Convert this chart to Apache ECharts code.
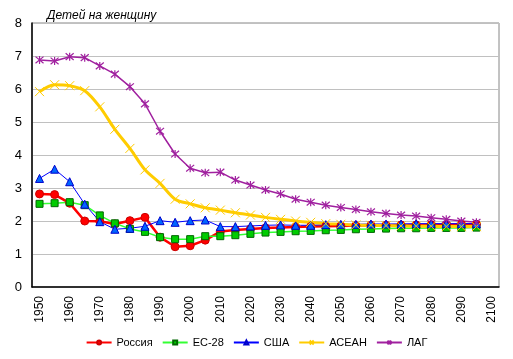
<!DOCTYPE html>
<html>
<head>
<meta charset="utf-8">
<script src="https://cdn.jsdelivr.net/npm/echarts@6/dist/echarts.min.js"></script>
<style>
html,body{margin:0;padding:0;background:#fff;}
#chart{width:513px;height:359px;}
</style>
</head>
<body>
<div id="chart"></div>
<script>
const years = ['1950','1955','1960','1965','1970','1975','1980','1985','1990','1995','2000','2005','2010','2015','2020','2025','2030','2035','2040','2045','2050','2055','2060','2065','2070','2075','2080','2085','2090','2095','2100'];
const russia = [2.82,2.80,2.54,2.00,1.99,1.91,2.01,2.11,1.51,1.22,1.25,1.42,1.68,1.73,1.76,1.79,1.80,1.82,1.83,1.84,1.85,1.86,1.87,1.87,1.88,1.88,1.89,1.89,1.90,1.90];
const eu28 = [2.52,2.54,2.57,2.48,2.17,1.93,1.76,1.67,1.51,1.45,1.45,1.54,1.54,1.57,1.61,1.65,1.67,1.69,1.70,1.72,1.73,1.75,1.76,1.77,1.78,1.78,1.79,1.79,1.79,1.80];
const usa = [3.29,3.57,3.19,2.51,1.98,1.75,1.78,1.84,2.01,1.96,2.01,2.03,1.83,1.83,1.85,1.87,1.88,1.87,1.87,1.89,1.90,1.90,1.91,1.91,1.91,1.92,1.92,1.92,1.92,1.92];
const asean = [5.92,6.13,6.10,5.95,5.46,4.78,4.20,3.55,3.14,2.66,2.52,2.40,2.33,2.25,2.18,2.11,2.05,2.00,1.96,1.92,1.90,1.88,1.87,1.86,1.85,1.84,1.84,1.83,1.83,1.83];
const lag = [6.88,6.85,6.98,6.95,6.70,6.45,6.07,5.55,4.72,4.03,3.60,3.46,3.48,3.24,3.09,2.94,2.82,2.66,2.57,2.48,2.41,2.35,2.28,2.23,2.18,2.15,2.10,2.05,2.00,1.96];
const names = ['Россия','ЕС-28','США','АСЕАН','ЛАГ'];
const yTitle = 'Детей на женщину';

const FONT = '"Liberation Sans", Arial, sans-serif';
const chart = echarts.init(document.getElementById('chart'), null, {renderer:'canvas'});
const xSym = 'path://M0,0L10,10M10,0L0,10';
const starSym = 'path://M0,0L10,10M10,0L0,10M5,-1L5,11';

chart.setOption({
  animation: false,
  backgroundColor: '#fff',
  textStyle: {fontFamily: FONT},
  title: {
    text: yTitle, left: 42, top: 5,
    textStyle: {fontFamily: FONT, fontStyle: 'italic', fontWeight: 'normal', fontSize: 12, color: '#000'}
  },
  grid: {left: 32, right: 14, top: 23, bottom: 72, show: true, borderColor: '#868686', borderWidth: 1},
  legend: {
    bottom: 6, left: 'center', itemWidth: 25, itemHeight: 5, itemGap: 9,
    textStyle: {fontFamily: FONT, fontSize: 11, color: '#000'},
    data: names
  },
  xAxis: {
    type: 'category', data: years, boundaryGap: true,
    axisLine: {lineStyle: {color: '#000', width: 1.5}},
    axisTick: {show: false},
    axisLabel: {rotate: 90, interval: 1, fontFamily: FONT, fontSize: 12, color: '#000', margin: 9}
  },
  yAxis: {
    type: 'value', min: 0, max: 8, interval: 1,
    axisLine: {show: true, lineStyle: {color: '#000', width: 1.5}},
    axisTick: {show: false},
    axisLabel: {fontFamily: FONT, fontSize: 13, color: '#000', margin: 10},
    splitLine: {lineStyle: {color: '#c0c0c0', width: 1}}
  },
  series: [
    {name: names[0], type: 'line', data: russia, symbol: 'circle', symbolSize: 8,
     lineStyle: {color: '#ff0000', width: 2.5},
     itemStyle: {color: '#ff0000', borderColor: '#cc0000', borderWidth: 1}},
    {name: names[1], type: 'line', data: eu28, symbol: 'rect', symbolSize: 7,
     lineStyle: {color: '#33ff33', width: 1.5},
     itemStyle: {color: '#00cc00', borderColor: '#006600', borderWidth: 1}},
    {name: names[2], type: 'line', data: usa, symbol: 'triangle', symbolSize: 8,
     lineStyle: {color: '#0000ff', width: 1},
     itemStyle: {color: '#0066ff', borderColor: '#0000cc', borderWidth: 1}},
    {name: names[3], type: 'line', data: asean, symbol: xSym, symbolSize: 9, smooth: 0.3,
     lineStyle: {color: '#ffcc00', width: 3},
     itemStyle: {color: '#ffcc00', borderColor: '#ffcc00', borderWidth: 1}},
    {name: names[4], type: 'line', data: lag, symbol: starSym, symbolSize: 8,
     lineStyle: {color: '#a0209f', width: 1.5},
     itemStyle: {color: '#a0209f', borderColor: '#a0209f', borderWidth: 1.2}}
  ]
});
</script>
</body>
</html>
